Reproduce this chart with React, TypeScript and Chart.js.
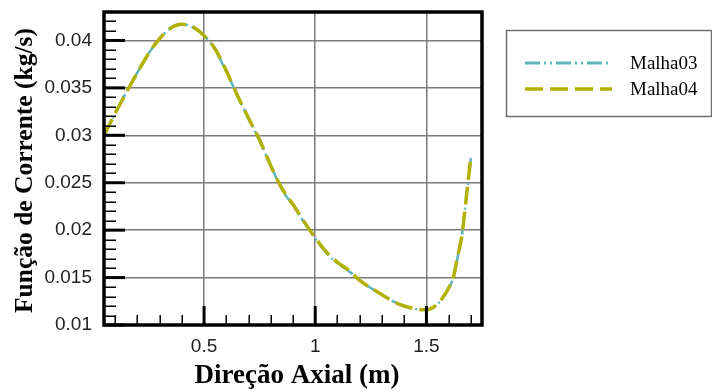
import React, { useEffect, useRef } from "react";
import { Chart, registerables } from "chart.js";

Chart.register(...registerables);

// ---- data ----
const xValues = [
  0.05, 0.1, 0.15, 0.2, 0.25, 0.3, 0.35, 0.4, 0.45, 0.5, 0.55, 0.6, 0.65, 0.7,
  0.75, 0.8, 0.85, 0.9, 0.95, 1.0, 1.05, 1.1, 1.15, 1.2, 1.25, 1.3, 1.35, 1.4,
  1.45, 1.5, 1.55, 1.58, 1.6, 1.62, 1.64, 1.66, 1.68, 1.7,
];
const malha03 = [
  0.03, 0.0323, 0.0345, 0.0366, 0.0386, 0.0402, 0.0413, 0.0417, 0.0414,
  0.0405, 0.039, 0.0367, 0.0342, 0.0318, 0.0294, 0.0268, 0.0243, 0.0226,
  0.0208, 0.0191, 0.0176, 0.0165, 0.0157, 0.0147, 0.0139, 0.0132, 0.0125,
  0.012, 0.0117, 0.0116, 0.0122, 0.0131, 0.0139, 0.0149, 0.0171, 0.0195,
  0.0235, 0.0276,
];
const malha04 = [
  0.03, 0.0323, 0.0345, 0.0366, 0.0386, 0.0402, 0.0413, 0.0417, 0.0414,
  0.0405, 0.0391, 0.0368, 0.0342, 0.0318, 0.0295, 0.0268, 0.0244, 0.0227,
  0.0209, 0.0192, 0.0177, 0.0166, 0.0158, 0.0147, 0.0139, 0.0132, 0.0125,
  0.012, 0.0117, 0.0116, 0.0122, 0.0131, 0.0139, 0.0149, 0.0172, 0.0195,
  0.0236, 0.0277,
];
const seriesNames = ["Malha03", "Malha04"];

const xMajorTicks = [0.5, 1, 1.5];
const xTickLabels = ["0.5", "1", "1.5"];
const xMinorTicks = [0.1, 0.2, 0.3, 0.4, 0.6, 0.7, 0.8, 0.9, 1.1, 1.2, 1.3, 1.4, 1.6, 1.7];

const yMajorTicks = [0.01, 0.015, 0.02, 0.025, 0.03, 0.035, 0.04];
const yTickLabels = ["0.01", "0.015", "0.02", "0.025", "0.03", "0.035", "0.04"];
const yMinorTicks = [
  0.011, 0.012, 0.013, 0.014, 0.016, 0.017, 0.018, 0.019, 0.021, 0.022, 0.023,
  0.024, 0.026, 0.027, 0.028, 0.029, 0.031, 0.032, 0.033, 0.034, 0.036, 0.037,
  0.038, 0.039, 0.041, 0.042,
];

const xTitle = "Direção Axial (m)";
const yTitle = "Função de Corrente (kg/s)";

// ---- styles ----
const CYAN = "#5cb6b8";
const OLIVE = "#b2b000";
const CYAN_DASH = [15, 4, 2, 4, 2, 4];
const OLIVE_DASH = [18, 7];
const TICK_FONT = { family: "'Liberation Sans', Arial, sans-serif", size: 19 };

const framePlugin = {
  id: "frame",
  afterDatasetsDraw(chart: any) {
    const { ctx, chartArea } = chart;
    const xs = chart.scales.x;
    const ys = chart.scales.y;
    const { left, right, top, bottom } = chartArea;
    ctx.save();
    ctx.strokeStyle = "#000";
    ctx.lineCap = "butt";
    // minor ticks
    ctx.lineWidth = 1.5;
    for (const v of yMinorTicks) {
      const p = Math.round(ys.getPixelForValue(v)) + 0.25;
      ctx.beginPath();
      ctx.moveTo(left, p);
      ctx.lineTo(left + 12, p);
      ctx.stroke();
    }
    for (const v of xMinorTicks) {
      const p = Math.round(xs.getPixelForValue(v)) + 0.25;
      ctx.beginPath();
      ctx.moveTo(p, bottom);
      ctx.lineTo(p, bottom - 10);
      ctx.stroke();
    }
    // major ticks
    ctx.lineWidth = 3;
    for (const v of yMajorTicks) {
      const p = ys.getPixelForValue(v);
      ctx.beginPath();
      ctx.moveTo(left, p);
      ctx.lineTo(left + 21, p);
      ctx.stroke();
    }
    for (const v of xMajorTicks) {
      const p = xs.getPixelForValue(v);
      ctx.beginPath();
      ctx.moveTo(p, bottom);
      ctx.lineTo(p, bottom - 19);
      ctx.stroke();
    }
    // frame
    ctx.lineWidth = 3.5;
    ctx.strokeRect(left, top, right - left, bottom - top);
    ctx.restore();
  },
  afterDraw(chart: any) {
    const { ctx, chartArea } = chart;
    ctx.save();
    // axis titles
    ctx.fillStyle = "#000";
    ctx.font = "bold 27px 'Liberation Serif', 'Times New Roman', serif";
    ctx.textAlign = "center";
    ctx.textBaseline = "alphabetic";
    ctx.fillText(xTitle, (chartArea.left + chartArea.right) / 2 + 4, 383);
    ctx.save();
    ctx.translate(32, (chartArea.top + chartArea.bottom) / 2 + 2);
    ctx.rotate(-Math.PI / 2);
    ctx.font = "bold 25.5px 'Liberation Serif', 'Times New Roman', serif";
    ctx.fillText(yTitle, 0, 0);
    ctx.restore();

    // legend
    const bx = 506.5, by = 30.5, bw = 205, bh = 86;
    ctx.strokeStyle = "#707070";
    ctx.lineWidth = 1.5;
    ctx.strokeRect(bx, by, bw, bh);
    const ds = chart.data.datasets;
    const rows = [63, 89];
    ds.forEach((d: any, i: number) => {
      const y = rows[i];
      ctx.save();
      ctx.strokeStyle = d.borderColor;
      ctx.lineWidth = i === 0 ? 3 : 3.5;
      ctx.setLineDash(d.borderDash);
      ctx.beginPath();
      ctx.moveTo(525, y);
      ctx.lineTo(612, y);
      ctx.stroke();
      ctx.restore();
      ctx.fillStyle = "#000";
      ctx.font = "19px 'Liberation Serif', 'Times New Roman', serif";
      ctx.textAlign = "left";
      ctx.textBaseline = "middle";
      ctx.fillText(d.label, 630, y + 1.5);
    });
    ctx.restore();
  },
};

export default function App() {
  const ref = useRef<HTMLCanvasElement>(null);

  useEffect(() => {
    document.body.style.margin = "0";
    const canvas = ref.current;
    if (!canvas) return;
    const chart = new Chart(canvas, {
      type: "line",
      data: {
        datasets: [
          {
            label: seriesNames[0],
            data: xValues.map((x, i) => ({ x, y: malha03[i] })),
            borderColor: CYAN,
            borderWidth: 2.5,
            borderDash: CYAN_DASH,
            pointRadius: 0,
            fill: false,
            cubicInterpolationMode: "monotone",
            order: 1,
          },
          {
            label: seriesNames[1],
            data: xValues.map((x, i) => ({ x, y: malha04[i] })),
            borderColor: OLIVE,
            borderWidth: 3.5,
            borderDash: OLIVE_DASH,
            pointRadius: 0,
            fill: false,
            cubicInterpolationMode: "monotone",
            order: 0,
          },
        ],
      },
      options: {
        animation: false,
        responsive: false,
        devicePixelRatio: 1,
        layout: { padding: { left: 0, top: 12, right: 230, bottom: 0 } },
        plugins: {
          legend: { display: false },
          tooltip: { enabled: false },
          title: { display: false },
        },
        scales: {
          x: {
            type: "linear",
            min: 0.05,
            max: 1.75,
            afterBuildTicks: (s: any) => {
              s.ticks = xMajorTicks.map((v) => ({ value: v }));
            },
            afterFit: (s: any) => {
              s.height = 67;
              s.paddingLeft = 0;
              s.paddingRight = 0;
            },
            ticks: {
              autoSkip: false,
              maxRotation: 0,
              padding: 10,
              color: "#222",
              font: TICK_FONT,
              callback: (v: any) => xTickLabels[xMajorTicks.indexOf(v)] ?? "",
            },
            grid: { color: "#7a7a7a", lineWidth: 1.5, drawTicks: false },
            border: { display: false },
          },
          y: {
            type: "linear",
            min: 0.01,
            max: 0.043,
            afterBuildTicks: (s: any) => {
              s.ticks = yMajorTicks.map((v) => ({ value: v }));
            },
            afterFit: (s: any) => {
              s.width = 104;
              s.paddingTop = 0;
              s.paddingBottom = 0;
            },
            ticks: {
              autoSkip: false,
              padding: 12,
              color: "#222",
              font: TICK_FONT,
              callback: (v: any) => yTickLabels[yMajorTicks.indexOf(v)] ?? "",
            },
            grid: { color: "#7a7a7a", lineWidth: 1.5, drawTicks: false },
            border: { display: false },
          },
        },
      },
      plugins: [framePlugin],
    } as any);
    return () => chart.destroy();
  }, []);

  return (
    <div style={{ width: 712, height: 392 }}>
      <canvas ref={ref} width={712} height={392} style={{ display: "block" }} />
    </div>
  );
}
